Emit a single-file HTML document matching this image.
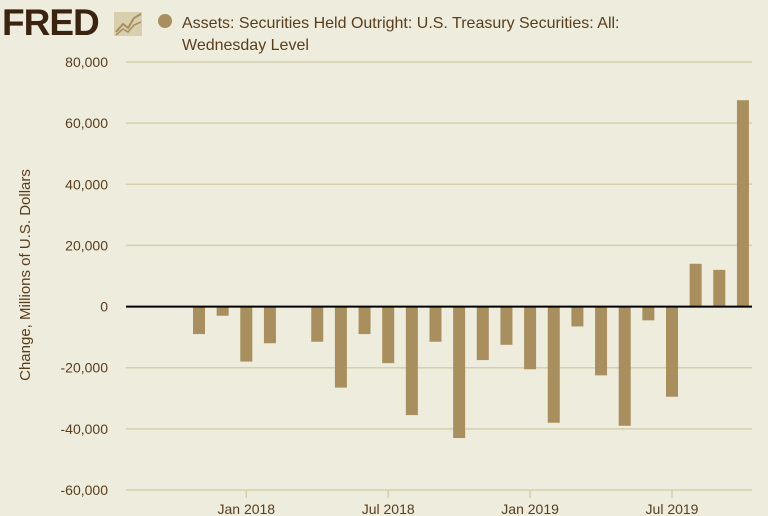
<!DOCTYPE html>
<html><head><meta charset="utf-8"><style>
body{margin:0;background:#edecdd;font-family:"Liberation Sans",sans-serif;}
#wrap{position:relative;width:768px;height:516px;overflow:hidden;background:#edecdd;}
</style></head><body>
<div id="wrap">
<svg id="svg" width="768" height="516">
<text x="2" y="35" font-size="37" font-weight="bold" fill="#3a2410" font-family="Liberation Sans" letter-spacing="-1">FRED</text>
<g>
<rect x="114" y="12" width="28" height="24" fill="#d8cfae"/>
<polyline points="116,32 123,24 128,28 134,18 141,14" fill="none" stroke="#a88f5d" stroke-width="2"/>
<polyline points="116,35 123,29 128,32 134,25 141,22" fill="none" stroke="#a88f5d" stroke-width="1.5"/>
</g>
<circle cx="165" cy="21" r="7" fill="#a88f5d"/>
<text x="182" y="28" font-size="16" fill="#5a3e1c">Assets: Securities Held Outright: U.S. Treasury Securities: All:</text>
<text x="182" y="50" font-size="16" fill="#5a3e1c">Wednesday Level</text>
<text transform="translate(30,275) rotate(-90)" text-anchor="middle" font-size="15" fill="#5a3e1c">Change, Millions of U.S. Dollars</text>
<g id="grid"></g><g id="bars"></g><g id="xax"></g>
</svg>
</div>
<script>
const yTicks=[80000,60000,40000,20000,0,-20000,-40000,-60000];
const yTickLabels=["80,000","60,000","40,000","20,000","0","-20,000","-40,000","-60,000"];
const months=["Nov 2017","Dec 2017","Jan 2018","Feb 2018","Mar 2018","Apr 2018","May 2018","Jun 2018","Jul 2018","Aug 2018","Sep 2018","Oct 2018","Nov 2018","Dec 2018","Jan 2019","Feb 2019","Mar 2019","Apr 2019","May 2019","Jun 2019","Jul 2019","Aug 2019","Sep 2019","Oct 2019"];
const values=[-9000,-3000,-18000,-12000,0,-11500,-26500,-9000,-18500,-35500,-11500,-43000,-17500,-12500,-20500,-38000,-6500,-22500,-39000,-4500,-29500,14000,12000,67500];
const xTickIdx=[2,8,14,20];
const xTickLabels=["Jan 2018","Jul 2018","Jan 2019","Jul 2019"];
const NS="http://www.w3.org/2000/svg";
const y0=62,y1=490,vmax=80000,vmin=-60000,L=126,R=752;
const yS=v=>y0+(vmax-v)*(y1-y0)/(vmax-vmin);
const xS=i=>199+i*23.65;
function mk(t,a,p){const e=document.createElementNS(NS,t);for(const k in a)e.setAttribute(k,a[k]);p.appendChild(e);return e;}
const grid=document.getElementById('grid'),bars=document.getElementById('bars'),xax=document.getElementById('xax');
yTicks.forEach((v,i)=>{
 const l=mk('line',{x1:L,x2:R,y1:yS(v),y2:yS(v),stroke:'#d6d0ab','stroke-width':1.5},grid);
 
 
 const t=mk('text',{x:108,y:yS(v)+5,'text-anchor':'end','font-size':14,fill:'#5a3e1c'},grid);
 t.textContent=yTickLabels[i];
 
 
});
values.forEach((v,i)=>{
 if(v===0)return;
 const a=yS(Math.max(v,0)),b=yS(Math.min(v,0));
 const r=mk('rect',{x:xS(i)-6,y:a,width:12,height:b-a,fill:'#a88f5d'},bars);
 
 
});
const z=mk('line',{x1:L,x2:R,y1:yS(0),y2:yS(0),stroke:'#000','stroke-width':2},bars);


xTickIdx.forEach((ix,i)=>{
 const x=xS(ix);
 const l=mk('line',{x1:x,x2:x,y1:y1,y2:y1+8,stroke:'#d6d0ab','stroke-width':1.5},xax);
 
 
 const t=mk('text',{x:x,y:514,'text-anchor':'middle','font-size':14,fill:'#5a3e1c'},xax);
 t.textContent=xTickLabels[i];
 
 
});
</script>
</body></html>
